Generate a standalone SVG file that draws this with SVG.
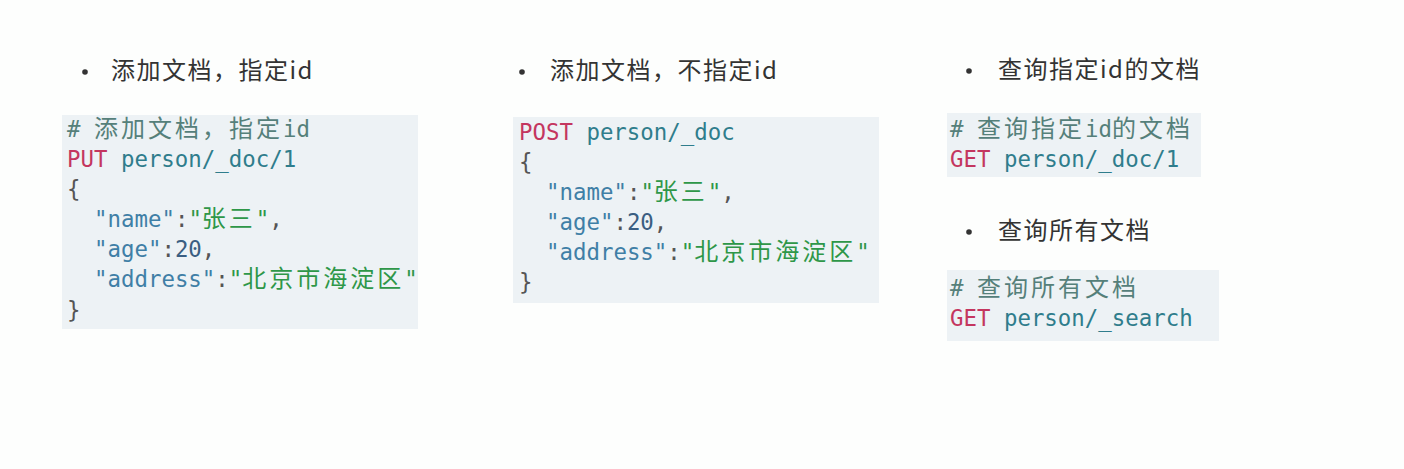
<svg xmlns="http://www.w3.org/2000/svg" width="1404" height="469" viewBox="0 0 1404 469">
<style>
.bg{fill:#fdfefd}
.box{fill:#edf2f5}
.head{font-family:"Noto Sans CJK SC","Noto Sans",sans-serif;font-size:24px;fill:#333;letter-spacing:1.5px}
.bul{fill:#333}
.code{font-family:"DejaVu Sans Mono","Noto Sans CJK SC",monospace;font-size:22.4px;fill:#555}
.cjk{font-size:24px;letter-spacing:3px}
.cm{fill:#55807a}
.me{fill:#c4365f}
.url{fill:#2f7d8c}
.key{fill:#3f7fa6}
.str{fill:#2e9748}
.num{fill:#3a5e82}
</style>
<rect class="bg" x="0" y="0" width="1404" height="469"/>

<g id="panel-add-with-id">
  <circle class="bul" cx="85" cy="72" r="2.8"/>
  <text class="head" x="111" y="79">添加文档，指定id</text>
  <rect class="box" x="62" y="115" width="356" height="214"/>
  <text class="code" x="67" y="137"><tspan class="cm"># <tspan class="cjk">添加文档，指定</tspan>id</tspan></text>
  <text class="code" x="67" y="167"><tspan class="me">PUT</tspan><tspan class="url"> person/_doc/1</tspan></text>
  <text class="code" x="67" y="197">{</text>
  <text class="code" x="94" y="227"><tspan class="key">"name"</tspan>:<tspan class="str">"<tspan class="cjk">张三</tspan>"</tspan>,</text>
  <text class="code" x="94" y="257"><tspan class="key">"age"</tspan>:<tspan class="num">20</tspan>,</text>
  <text class="code" x="94" y="287"><tspan class="key">"address"</tspan>:<tspan class="str">"<tspan class="cjk">北京市海淀区</tspan>"</tspan></text>
  <text class="code" x="67" y="318">}</text>
</g>

<g id="panel-add-without-id">
  <circle class="bul" cx="522" cy="72" r="2.8"/>
  <text class="head" x="550" y="79">添加文档，不指定id</text>
  <rect class="box" x="513" y="117" width="366" height="186"/>
  <text class="code" x="519" y="140"><tspan class="me">POST</tspan><tspan class="url"> person/_doc</tspan></text>
  <text class="code" x="519" y="170">{</text>
  <text class="code" x="546" y="200"><tspan class="key">"name"</tspan>:<tspan class="str">"<tspan class="cjk">张三</tspan>"</tspan>,</text>
  <text class="code" x="546" y="230"><tspan class="key">"age"</tspan>:<tspan class="num">20</tspan>,</text>
  <text class="code" x="546" y="260"><tspan class="key">"address"</tspan>:<tspan class="str">"<tspan class="cjk">北京市海淀区</tspan>"</tspan></text>
  <text class="code" x="519" y="290">}</text>
</g>

<g id="panel-get-by-id">
  <circle class="bul" cx="969" cy="71" r="2.8"/>
  <text class="head" x="998" y="78">查询指定id的文档</text>
  <rect class="box" x="947" y="113" width="254" height="64"/>
  <text class="code" x="950" y="137"><tspan class="cm"># <tspan class="cjk">查询指定</tspan>id<tspan class="cjk">的文档</tspan></tspan></text>
  <text class="code" x="950" y="167"><tspan class="me">GET</tspan><tspan class="url"> person/_doc/1</tspan></text>
</g>

<g id="panel-get-all">
  <circle class="bul" cx="969" cy="232" r="2.8"/>
  <text class="head" x="998" y="239">查询所有文档</text>
  <rect class="box" x="947" y="270" width="272" height="71"/>
  <text class="code" x="950" y="296"><tspan class="cm"># <tspan class="cjk">查询所有文档</tspan></tspan></text>
  <text class="code" x="950" y="326"><tspan class="me">GET</tspan><tspan class="url"> person/_search</tspan></text>
</g>

<g id="connectors"></g>
</svg>
